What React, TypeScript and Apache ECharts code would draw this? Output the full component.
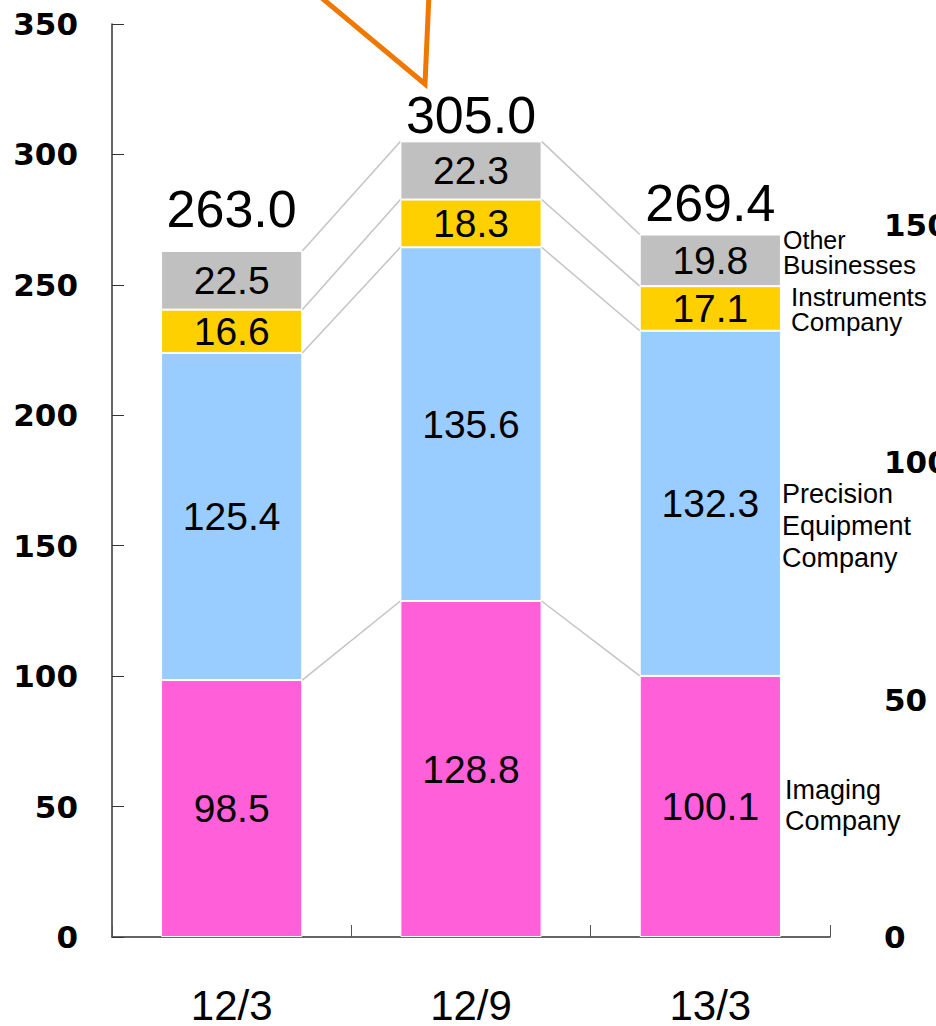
import React, { useEffect, useRef } from "react";
import * as echarts from "echarts";

const categories = ["12/3", "12/9", "13/3"];
const imaging = [98.5, 128.8, 100.1];
const precision = [125.4, 135.6, 132.3];
const instruments = [16.6, 18.3, 17.1];
const others = [22.5, 22.3, 19.8];
const totals = [263.0, 305.0, 269.4];
const totalLabelDistance = [16, 0, 5];
const leftTicks = { min: 0, max: 350, interval: 50 };

const FONT = "'Liberation Sans', Arial, sans-serif";
const AXISFONT = "'DejaVu Sans', 'Liberation Sans', sans-serif";

export default function App() {
  const ref = useRef<HTMLDivElement>(null);
  useEffect(() => {
    if (!ref.current) return;
    const chart = echarts.init(ref.current, null, { renderer: "svg" });

    const stacks = [imaging, precision, instruments, others];
    const connectors: number[][] = [];
    for (let i = 0; i < categories.length - 1; i++) {
      let a = 0;
      let b = 0;
      for (const s of stacks) {
        a += s[i];
        b += s[i + 1];
        connectors.push([i, a, b]);
      }
    }

    const innerLabel = {
      show: true,
      position: "inside",
      color: "#000",
      fontSize: 39,
      fontFamily: FONT,
      formatter: (p: any) => Number(p.value).toFixed(1),
    };
    const barBase = {
      type: "bar",
      stack: "total",
      barWidth: "59%",
      label: innerLabel,
    };

    const sideLine = (x: number, cy: number, text: string, size: number, lh: number) => ({
      type: "text",
      left: x,
      top: cy - lh / 2,
      style: { text, fontSize: size, lineHeight: lh, fontFamily: FONT, fill: "#000" },
    });

    chart.setOption({
      animation: false,
      backgroundColor: "#fff",
      grid: { left: 112, right: 106, top: 24, bottom: 89, outerBoundsMode: "none", containLabel: false },
      xAxis: {
        type: "category",
        data: categories,
        axisLine: { lineStyle: { color: "#333", width: 1.5 } },
        axisTick: { show: true, inside: true, length: 12, lineStyle: { color: "#555" } },
        axisLabel: { margin: 48, fontSize: 42, lineHeight: 40, color: "#000", fontFamily: FONT },
      },
      yAxis: [
        {
          type: "value",
          ...leftTicks,
          axisLine: { show: true, lineStyle: { color: "#333", width: 1.5 } },
          axisTick: { show: true, inside: true, length: 12, lineStyle: { color: "#333" } },
          axisLabel: { margin: 34, fontSize: 31, fontWeight: "bold", color: "#000", fontFamily: AXISFONT },
          splitLine: { show: false },
        },
        {
          type: "value",
          position: "right",
          min: 0,
          max: 192.3,
          interval: 50,
          axisLine: { show: false },
          axisTick: { show: false },
          splitLine: { show: false },
          axisLabel: {
            margin: 54,
            fontSize: 31,
            fontWeight: "bold",
            color: "#000",
            fontFamily: AXISFONT,
            showMaxLabel: false,
          },
        },
      ],
      series: [
        {
          type: "custom",
          renderItem: (params: any, api: any) => {
            const i = api.value(0);
            const p1 = api.coord([i, api.value(1)]);
            const p2 = api.coord([i + 1, api.value(2)]);
            const half = api.size([1, 0])[0] * 0.295;
            return {
              type: "line",
              shape: { x1: p1[0] + half, y1: p1[1], x2: p2[0] - half, y2: p2[1] },
              style: { stroke: "#c4c4c4", lineWidth: 1.5 },
            };
          },
          encode: { x: 0, y: [1, 2] },
          data: connectors,
          z: 1,
        },
        { ...barBase, name: "Imaging Company", data: imaging, itemStyle: { color: "#FF5FD8", borderColor: "#fff", borderWidth: 1 } },
        { ...barBase, name: "Precision Equipment Company", data: precision, itemStyle: { color: "#99CCFF", borderColor: "#fff", borderWidth: 1 } },
        { ...barBase, name: "Instruments Company", data: instruments, itemStyle: { color: "#FFD000", borderColor: "#fff", borderWidth: 1 } },
        { ...barBase, name: "Other Businesses", data: others, itemStyle: { color: "#C0C0C0", borderColor: "#fff", borderWidth: 1 } },
        {
          type: "scatter",
          symbolSize: 0,
          itemStyle: { opacity: 1 },
          data: totals.map((t, i) => ({
            value: [i, t],
            label: { distance: totalLabelDistance[i] },
          })),
          label: {
            show: true,
            position: "top",
            fontSize: 52,
            color: "#000",
            fontFamily: FONT,
            formatter: (p: any) => Number(p.value[1]).toFixed(1),
          },
          z: 5,
        },
      ],
      graphic: [
        {
          type: "polyline",
          shape: { points: [[317, -6], [425, 84], [429, -6]] },
          style: { stroke: "#F07800", lineWidth: 5, fill: null, lineJoin: "miter" },
        },
        sideLine(783, 239, "Other", 25, 24),
        sideLine(783, 264, "Businesses", 26, 24),
        sideLine(791, 296, "Instruments", 26, 24),
        sideLine(791, 321, "Company", 26, 24),
        sideLine(782, 494, "Precision", 27, 30),
        sideLine(782, 526, "Equipment", 27, 30),
        sideLine(782, 558, "Company", 27, 30),
        sideLine(785, 790, "Imaging", 27, 30),
        sideLine(785, 821, "Company", 27, 30),
      ],
    });
    return () => chart.dispose();
  }, []);
  return <div ref={ref} style={{ position: "absolute", left: 0, top: 0, width: 936, height: 1026 }} />;
}
